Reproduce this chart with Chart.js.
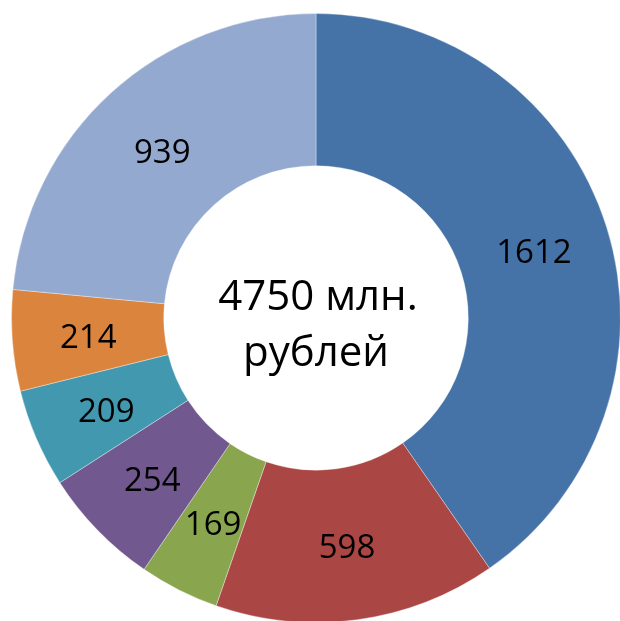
<!DOCTYPE html>
<html>
<head>
<meta charset="utf-8">
<script src="https://cdn.jsdelivr.net/npm/chart.js@4.4.1/dist/chart.umd.min.js"></script>
<style>
  html, body { margin: 0; padding: 0; background: #fff; overflow: hidden; width: 620px; height: 621px; }
  #wrap { position: absolute; left: 11px; top: 13px; width: 610px; height: 610px; }
</style>
</head>
<body>
<div id="wrap"><canvas id="donut"></canvas></div>
<script>
const labels = ["A", "B", "C", "D", "E", "F", "G"];
const values = [1612, 598, 169, 254, 209, 214, 939];
const colors = ['#4573A7', '#AA4643', '#89A54E', '#71588F', '#4198AF', '#DB843D', '#93A9CF'];
const centerLines = ["4750 млн.", "рублей"];

const labelFont = '33px "Open Sans"';
const centerFont = '42px "Open Sans"';

const sliceLabels = {
    id: 'sliceLabels',
    afterDatasetsDraw(chart) {
        const ctx = chart.ctx;
        const meta = chart.getDatasetMeta(0);
        ctx.save();
        ctx.font = labelFont;
        ctx.fillStyle = '#000';
        ctx.textAlign = 'center';
        ctx.textBaseline = 'middle';
        meta.data.forEach((arc, i) => {
            const p = arc.tooltipPosition();
            ctx.fillText(String(values[i]), p.x, p.y + 4);
        });
        // center text
        const a = meta.data[0];
        ctx.font = centerFont;
        ctx.textBaseline = 'alphabetic';
        ctx.fillText(centerLines[0], a.x + 2, a.y - 8);
        ctx.fillText(centerLines[1], a.x, a.y + 48);
        ctx.restore();
    }
};

const donutCanvas = document.getElementById('donut');
let donutChart = new Chart(donutCanvas, {
    type: 'doughnut',
    data: {
        labels: labels,
        datasets: [{
            data: values,
            backgroundColor: colors,
            borderWidth: 1,
            borderColor: 'rgba(255,255,255,0.35)'
        }]
    },
    options: {
        responsive: true,
        maintainAspectRatio: false,
        animation: false,
        cutout: '50%',
        layout: { padding: 0 },
        plugins: {
            legend: { display: false },
            tooltip: { enabled: false }
        }
    },
    plugins: [sliceLabels]
});
</script>
</body>
</html>
